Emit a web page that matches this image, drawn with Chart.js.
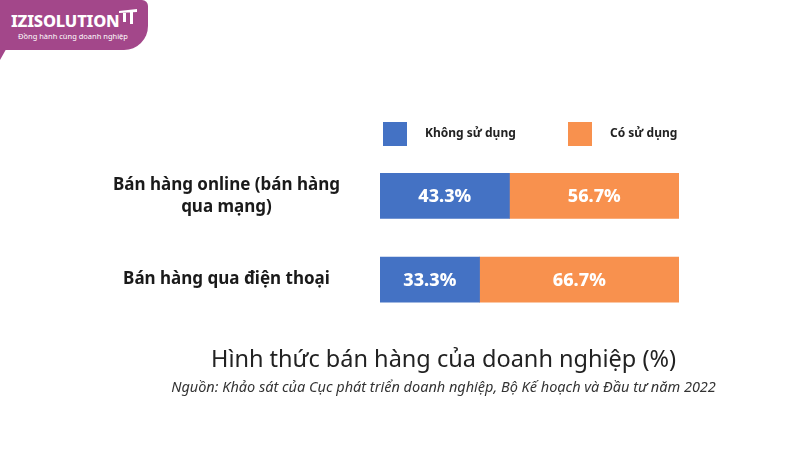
<!DOCTYPE html>
<html lang="vi">
<head>
<meta charset="utf-8">
<script src="https://cdn.jsdelivr.net/npm/chart.js@4"></script>
<style>
  html, body { margin: 0; padding: 0; background: #fff; }
  #wrap { position: relative; width: 800px; height: 450px; font-family: "Noto Sans", sans-serif; }
  #chart { position: absolute; left: 0; top: 0; }
  .logo { position: absolute; left: 0; top: 0; width: 148px; height: 50px; background: #a3478a;
          border-radius: 0 6px 24px 0; color: #fff; }
  .logo-tail { position: absolute; left: 0; top: 44px; width: 9px; height: 16px; background: #a3478a;
               clip-path: polygon(0 0, 100% 0, 0 100%); }
  .logo .name { position: absolute; left: 11px; top: 9px; font: 800 16.5px "Noto Sans", sans-serif; letter-spacing: -0.2px; }
  .logo svg { position: absolute; left: 118px; top: 9px; }
  .logo .tag { position: absolute; left: 18px; top: 31px; font: 400 7.5px "Noto Sans", sans-serif; }
  .legend { position: absolute; top: 122px; height: 24px; display: flex; align-items: center; }
  .legend .box { width: 24px; height: 24px; margin-right: 18px; }
  .legend span { font: 700 12px "Noto Sans", sans-serif; color: #222; position: relative; top: -2px; }
</style>
</head>
<body>
<div id="wrap">
  <canvas id="chart" width="800" height="450"></canvas>
  <div class="logo-tail"></div>
  <div class="logo">
    <div class="name">IZISOLUTION</div>
    <svg width="20" height="16" viewBox="0 0 20 16">
      <path d="M1 2 L19 0 L19 3 L1 4 Z M5 4 L8 4 L8 13 L5 13 Z M12 3 L15 3 L15 15 L12 15 Z" fill="#fff"/>
    </svg>
    <div class="tag">Đồng hành cùng doanh nghiệp</div>
  </div>
  <div id="legend"></div>
</div>
<script>
// categories and series (percent)
const categories = [["Bán hàng online (bán hàng", "qua mạng)"], "Bán hàng qua điện thoại"];
const seriesNames = ["Không sử dụng", "Có sử dụng"];
const notUsing = [43.3, 33.3];
const using = [56.7, 66.7];
const seriesColors = ["#4472c4", "#f8914e"];
const legendLeft = [383, 568];

// value labels inside each bar segment
const valueLabels = {
  id: "valueLabels",
  afterDatasetsDraw(chart) {
    const ctx = chart.ctx;
    ctx.save();
    ctx.fillStyle = "#fff";
    ctx.font = "800 18px 'Noto Sans', sans-serif";
    ctx.textAlign = "center";
    ctx.textBaseline = "middle";
    chart.data.datasets.forEach((ds, i) => {
      chart.getDatasetMeta(i).data.forEach((bar, j) => {
        const p = bar.getProps(["x", "y", "base"], true);
        ctx.fillText(ds.data[j].toFixed(1) + "%", (p.x + p.base) / 2, p.y + 1);
      });
    });
    ctx.restore();
  }
};

const chart = new Chart(document.getElementById("chart"), {
  type: "bar",
  data: {
    labels: categories,
    datasets: [
      { label: seriesNames[0], data: notUsing, backgroundColor: seriesColors[0], barThickness: 45 },
      { label: seriesNames[1], data: using, backgroundColor: seriesColors[1], barThickness: 45 }
    ]
  },
  options: {
    indexAxis: "y",
    responsive: false,
    animation: false,
    layout: { padding: { left: 100, right: 13, top: 154, bottom: 53 } },
    scales: {
      x: { stacked: true, min: 0, max: 100, display: false },
      y: {
        stacked: true,
        grid: { display: false },
        border: { display: false },
        afterFit: (s) => { s.width = 280; },
        ticks: {
          crossAlign: "center",
          padding: 32,
          color: "#1a1a1a",
          font: { family: "'Noto Sans', sans-serif", size: 17, weight: "bold", lineHeight: 1.3 }
        }
      },
      // empty spacer on the right so the bars end where the reference's do
      yRight: {
        type: "category",
        axis: "y",
        position: "right",
        grid: { display: false },
        border: { display: false },
        ticks: { display: false },
        afterFit: (s) => { s.width = 108; }
      }
    },
    plugins: {
      legend: { display: false },
      tooltip: { enabled: false },
      title: {
        display: true,
        position: "bottom",
        weight: 1400,
        text: "Hình thức bán hàng của doanh nghiệp (%)",
        color: "#222",
        font: { family: "'Noto Sans', sans-serif", size: 23.5, weight: "normal", lineHeight: 1.2 },
        padding: { top: 25, bottom: 2 }
      },
      subtitle: {
        display: true,
        position: "bottom",
        text: "Nguồn: Khảo sát của Cục phát triển doanh nghiệp, Bộ Kế hoạch và Đầu tư năm 2022",
        color: "#333",
        font: { family: "'Noto Sans', sans-serif", size: 14.5, style: "italic", lineHeight: 1.2 },
        padding: { top: 3, bottom: 0 }
      }
    }
  },
  plugins: [valueLabels]
});

// legend built from the series
const legendEl = document.getElementById("legend");
seriesNames.forEach((name, i) => {
  const item = document.createElement("div");
  item.className = "legend";
  item.style.left = legendLeft[i] + "px";
  item.innerHTML = '<div class="box" style="background:' + seriesColors[i] + '"></div><span>' + name + '</span>';
  legendEl.appendChild(item);
});
</script>
</body>
</html>
